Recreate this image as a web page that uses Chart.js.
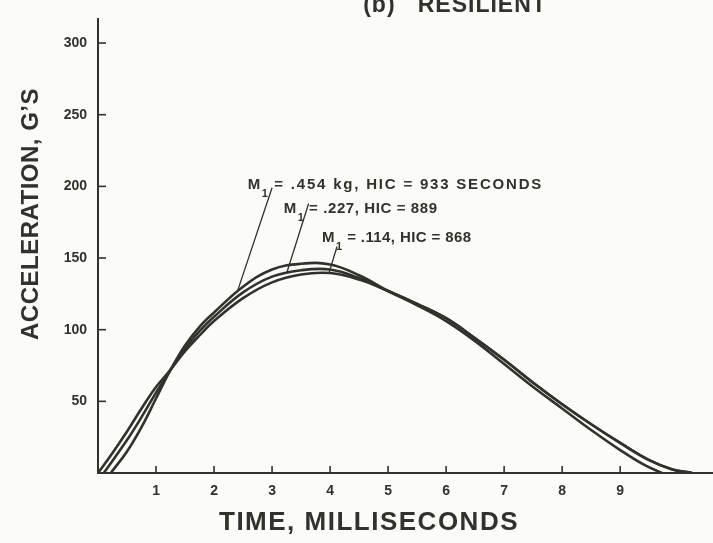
<!DOCTYPE html>
<html>
<head>
<meta charset="utf-8">
<script src="https://cdn.jsdelivr.net/npm/chart.js@4"></script>
<style>
  html, body { margin: 0; padding: 0; background: #fbfbf7; }
  #wrap { width: 713px; height: 543px; }
</style>
</head>
<body>
<div id="wrap"><canvas id="myChart"></canvas></div>
<script>
// acceleration pulses (time in ms, acceleration in G's)
const time454 = [0.22, 0.5, 0.75, 1, 1.25, 1.5, 1.75, 2, 2.5, 3, 3.5, 4, 4.5, 5, 5.5, 6, 6.5, 7, 7.5, 8, 8.5, 9, 9.4, 9.72];
const acc454  = [0, 15, 32, 52, 72, 89, 102, 112, 130, 142, 146, 145.5, 138, 127, 117, 106, 92, 76, 60, 45, 30, 16, 6, 0];

const time227 = [0.1, 0.5, 0.75, 1, 1.25, 1.5, 1.75, 2, 2.5, 3, 3.5, 4, 4.5, 5, 5.5, 6, 6.5, 7, 7.5, 8, 8.5, 9, 9.5, 9.9, 10.24];
const acc227  = [0, 23, 39, 56, 72, 87, 99, 109, 126, 137, 141.5, 142, 136, 127, 118, 108, 94, 79, 63, 48, 34, 21, 9, 2.5, 0];

const time114 = [0, 0.25, 0.5, 0.75, 1, 1.25, 1.5, 1.75, 2, 2.5, 3, 3.5, 4, 4.5, 5, 5.5, 6, 6.5, 7, 7.5, 8, 8.5, 9, 9.5, 9.9, 10.24];
const acc114  = [0, 14, 29, 45, 60, 72, 85, 96, 106, 122, 133, 138.5, 139.5, 135, 127, 118, 108, 94, 79, 63, 48, 34, 21, 9, 2.5, 0];

const curveNames = ['M1 = .454 kg, HIC = 933 SECONDS', 'M1 = .227, HIC = 889', 'M1 = .114, HIC = 868'];
const labelRest = [' = .454 kg, HIC = 933 SECONDS', ' = .227, HIC = 889', ' = .114, HIC = 868'];
// time (ms) where each label's leader line touches its curve
const leaderTime = [2.4, 3.25, 3.98];

const xTickValues = [1, 2, 3, 4, 5, 6, 7, 8, 9];
const yTickValues = [50, 100, 150, 200, 250, 300];

const ink = '#33312d';
const toPoints = (t, a) => t.map((v, i) => ({ x: v, y: a[i] }));

// value of a series at time t (straight between read points)
function valueAt(t, times, accs) {
  for (let i = 1; i < times.length; i++) {
    if (t <= times[i]) {
      const f = (t - times[i - 1]) / (times[i] - times[i - 1]);
      return accs[i - 1] + f * (accs[i] - accs[i - 1]);
    }
  }
  return accs[accs.length - 1];
}

// label anchors (data units): left of the "M", middle of the text, where the leader leaves it,
// and the extra letter spacing of each line
const labelPos = [
  { x: 2.58, y: 201, lx: 3.0, ly: 199, sp: 1.8 },
  { x: 3.2, y: 184, lx: 3.63, ly: 188, sp: 0.6 },
  { x: 3.86, y: 164, lx: 4.12, ly: 158, sp: 0.4 }
];

const curves = [toPoints(time454, acc454), toPoints(time227, acc227), toPoints(time114, acc114)];
const series = [[time454, acc454], [time227, acc227], [time114, acc114]];

const leaders = series.map((s, i) => [
  { x: labelPos[i].lx, y: labelPos[i].ly },
  { x: leaderTime[i], y: valueAt(leaderTime[i], s[0], s[1]) }
]);

const paperInk = {
  id: 'paperInk',
  beforeDraw(chart) {
    const ctx = chart.ctx;
    ctx.save();
    ctx.fillStyle = '#fbfbf7';
    ctx.fillRect(0, 0, chart.width, chart.height);
    ctx.restore();
  },
  afterDraw(chart) {
    const { ctx, chartArea, scales: { x, y } } = chart;
    ctx.save();
    ctx.strokeStyle = ink;
    ctx.lineWidth = 1.6;
    // ticks point into the plot, as on the original
    xTickValues.forEach(v => {
      const px = x.getPixelForValue(v);
      ctx.beginPath();
      ctx.moveTo(px, chartArea.bottom);
      ctx.lineTo(px, chartArea.bottom - 7);
      ctx.stroke();
    });
    yTickValues.forEach(v => {
      const py = y.getPixelForValue(v);
      ctx.beginPath();
      ctx.moveTo(chartArea.left, py);
      ctx.lineTo(chartArea.left + 8, py);
      ctx.stroke();
    });

    ctx.fillStyle = ink;
    // title, cut at the top of the scan
    ctx.font = 'bold 23px "Liberation Sans", Arial, sans-serif';
    ctx.letterSpacing = '1px';
    ctx.textAlign = 'center';
    ctx.textBaseline = 'alphabetic';
    ctx.fillText('(b)   RESILIENT', 455, 12);

    // axis titles
    ctx.font = 'bold 26px "Liberation Sans", Arial, sans-serif';
    ctx.letterSpacing = '1.5px';
    ctx.textBaseline = 'middle';
    ctx.fillText('TIME, MILLISECONDS', 369, 523);
    ctx.save();
    ctx.translate(31, 214);
    ctx.rotate(-Math.PI / 2);
    ctx.font = 'bold 24px "Liberation Sans", Arial, sans-serif';
    ctx.letterSpacing = '0.5px';
    ctx.fillText('ACCELERATION, G\u2019S', 0, 0);
    ctx.restore();

    // curve labels with subscript
    ctx.textAlign = 'left';
    labelPos.forEach((p, i) => {
      let px = x.getPixelForValue(p.x);
      const py = y.getPixelForValue(p.y);
      ctx.letterSpacing = '0.5px';
      ctx.font = 'bold 15px "Liberation Sans", Arial, sans-serif';
      ctx.fillText('M', px, py);
      px += ctx.measureText('M').width + 1;
      ctx.font = 'bold 11px "Liberation Sans", Arial, sans-serif';
      ctx.fillText('1', px, py + 9);
      px += ctx.measureText('1').width;
      ctx.letterSpacing = p.sp + 'px';
      ctx.font = 'bold 15px "Liberation Sans", Arial, sans-serif';
      ctx.fillText(labelRest[i], px, py);
    });
    ctx.restore();
  }
};

const ctx = document.getElementById('myChart').getContext('2d');
const myChart = new Chart(ctx, {
  type: 'line',
  data: {
    datasets: [
      ...curves.map((pts, i) => ({
        label: curveNames[i],
        data: pts,
        borderColor: ink,
        borderWidth: 2.6,
        pointRadius: 0,
        tension: 0.4,
        fill: false
      })),
      ...leaders.map((pts, i) => ({
        label: 'leader ' + (i + 1),
        data: pts,
        borderColor: ink,
        borderWidth: 1.3,
        pointRadius: 0,
        tension: 0,
        fill: false
      }))
    ]
  },
  options: {
    responsive: true,
    maintainAspectRatio: false,
    animation: false,
    layout: { padding: { top: 14, right: 0, left: 0, bottom: 0 } },
    plugins: {
      legend: { display: false },
      tooltip: { enabled: false },
      title: { display: false }
    },
    scales: {
      x: {
        type: 'linear',
        min: 0,
        max: 10.6,
        afterFit: s => { s.height = 70; },
        afterBuildTicks: s => { s.ticks = xTickValues.map(v => ({ value: v })); },
        grid: { display: true, drawOnChartArea: false, drawTicks: false },
        border: { display: true, color: ink, width: 2 },
        ticks: {
          padding: 10,
          color: ink,
          font: { family: '"Liberation Sans", Arial, sans-serif', size: 14, weight: 'bold' }
        }
      },
      y: {
        type: 'linear',
        min: 0,
        max: 316.5,
        afterFit: s => { s.width = 98; },
        afterBuildTicks: s => { s.ticks = yTickValues.map(v => ({ value: v })); },
        grid: { display: true, drawOnChartArea: false, drawTicks: false },
        border: { display: true, color: ink, width: 2 },
        ticks: {
          padding: 11,
          color: ink,
          font: { family: '"Liberation Sans Narrow", "Liberation Sans", Arial, sans-serif', size: 14, weight: 'bold' }
        }
      }
    }
  },
  plugins: [paperInk]
});
</script>
</body>
</html>
